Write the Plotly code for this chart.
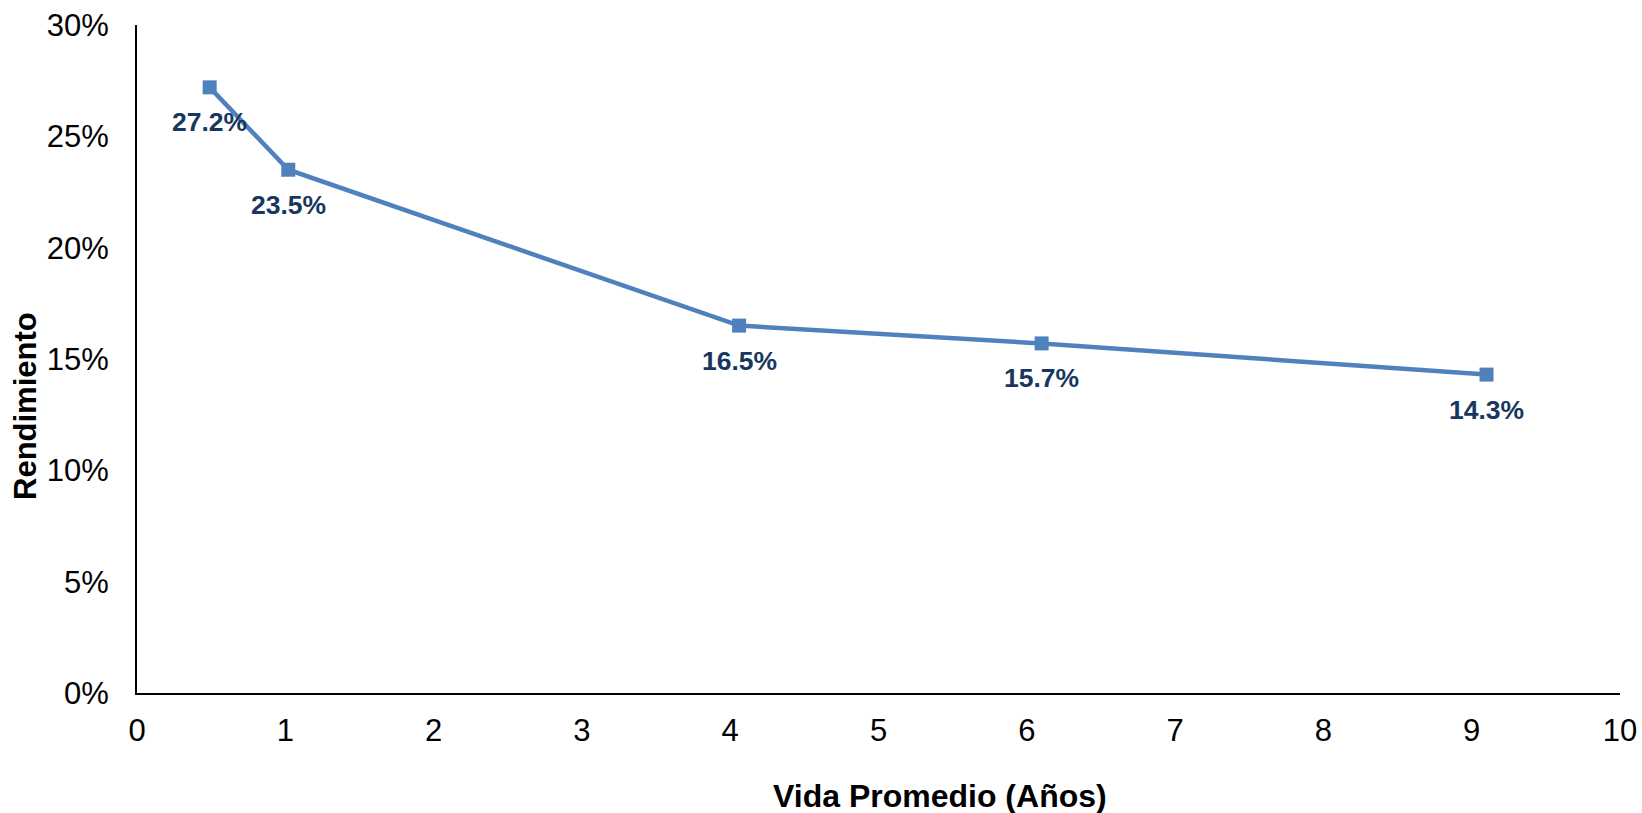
import plotly.graph_objects as go

vida = [0.49, 1.02, 4.06, 6.10, 9.10]
rendimiento = [27.2, 23.5, 16.5, 15.7, 14.3]
labels = ["27.2%", "23.5%", "16.5%", "15.7%", "14.3%"]
y_ticks = [0, 5, 10, 15, 20, 25, 30]
y_ticktext = ["0%", "5%", "10%", "15%", "20%", "25%", "30%"]
x_ticks = list(range(0, 11))

FONT = "Liberation Sans, Arial"

fig = go.Figure()
fig.add_trace(go.Scatter(
    x=vida, y=rendimiento, mode="lines+markers",
    line=dict(color="#4F81BD", width=4.5),
    marker=dict(symbol="square", size=14, color="#4F81BD"),
    hoverinfo="skip", showlegend=False, cliponaxis=False,
))
for xv, yv, t in zip(vida, rendimiento, labels):
    fig.add_annotation(x=xv, y=yv, text=t, showarrow=False, yshift=-35,
                       font=dict(family=FONT, size=26.5, color="#17375E", weight="bold"))

# axis titles
fig.add_annotation(xref="paper", yref="paper", x=0, y=0.5, xshift=-112, yshift=-47,
                   text="<b>Rendimiento</b>", textangle=-90, showarrow=False,
                   xanchor="center", yanchor="middle",
                   font=dict(family=FONT, size=31, color="black"))
fig.add_annotation(xref="paper", yref="paper", x=0.5, y=0, xshift=61.5, yshift=-103,
                   text="<b>Vida Promedio (Años)</b>", showarrow=False,
                   xanchor="center", yanchor="middle",
                   font=dict(family=FONT, size=32, color="black"))

fig.update_layout(
    width=1642, height=813,
    margin=dict(l=137, r=22, t=25, b=120),
    paper_bgcolor="white", plot_bgcolor="white",
    font=dict(family=FONT, color="black"),
)
fig.update_xaxes(
    range=[0, 10], tickvals=x_ticks, showgrid=False, zeroline=False,
    showline=True, linecolor="black", linewidth=2, ticks="",
    tickfont=dict(size=31), ticklabelstandoff=9, automargin=False,
    ticklabeloverflow="allow",
)
fig.update_yaxes(
    range=[0, 30], tickvals=y_ticks, ticktext=y_ticktext, showgrid=False, zeroline=False,
    showline=True, linecolor="black", linewidth=2, ticks="",
    tickfont=dict(size=31), ticklabelstandoff=20, automargin=False,
    ticklabeloverflow="allow",
)
fig.write_html("out.html", config={"displayModeBar": False},
               post_script="document.body.style.margin='0';document.body.style.overflow='hidden';")
